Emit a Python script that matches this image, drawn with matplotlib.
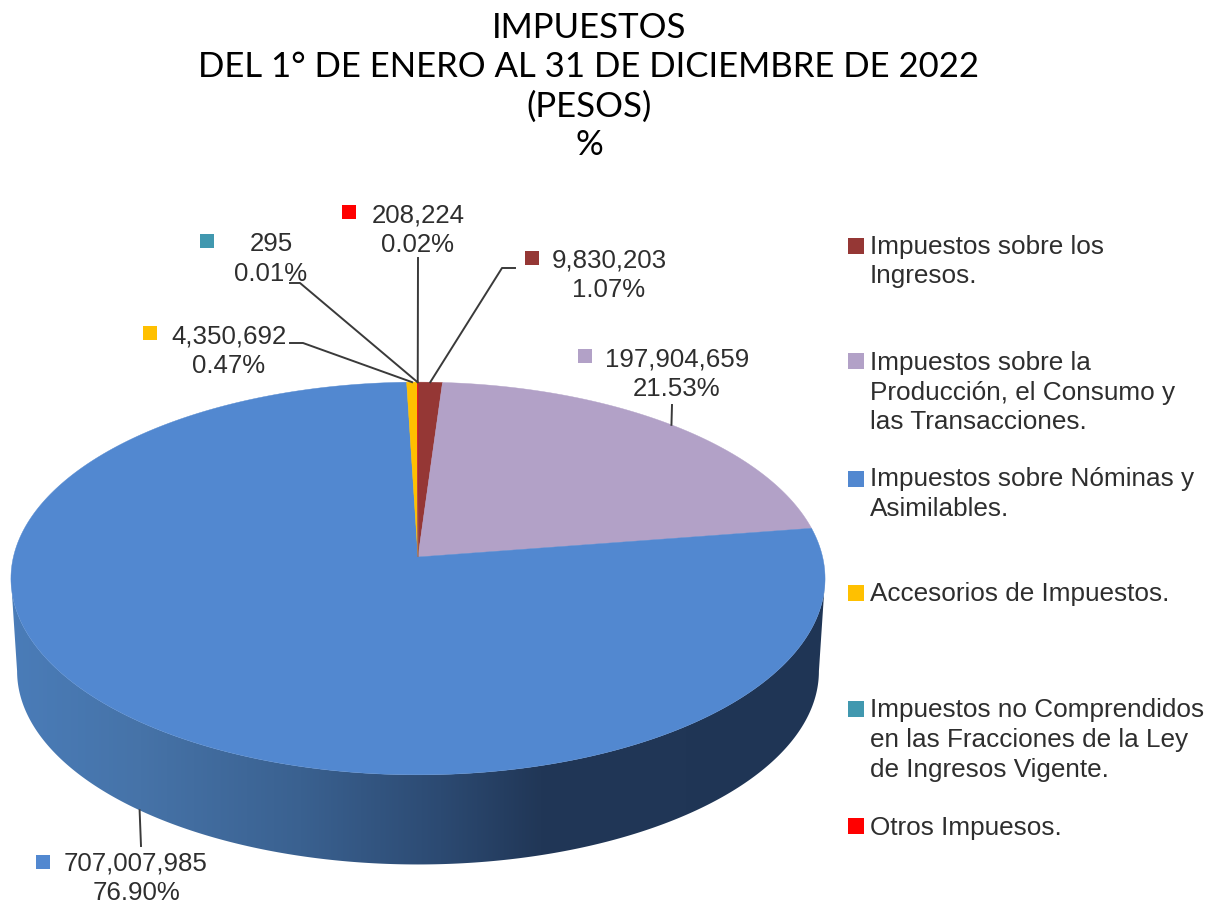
# Impuestos 2022 - fake 3D pie (perspective disc) with labels and legend
import matplotlib
matplotlib.use('Agg')
import matplotlib.pyplot as plt
from matplotlib.colors import to_rgb
from matplotlib.patches import Polygon
import numpy as np

# data
categories = ['Impuestos sobre los\nIngresos.',
              'Impuestos sobre la\nProducción, el Consumo y\nlas Transacciones.',
              'Impuestos sobre Nóminas y\nAsimilables.',
              'Accesorios de Impuestos.',
              'Impuestos no Comprendidos\nen las Fracciones de la Ley\nde Ingresos Vigente.',
              'Otros Impuesos.']
values = [9830203, 197904659, 707007985, 4350692, 295, 208224]
value_labels = ['9,830,203', '197,904,659', '707,007,985', '4,350,692', '295', '208,224']
percents = ['1.07%', '21.53%', '76.90%', '0.47%', '0.01%', '0.02%']
colors = ['#953735', '#B2A1C7', '#5288D0', '#FFC000', '#4198AF', '#FF0000']
title_lines = ['IMPUESTOS', 'DEL 1° DE ENERO AL 31 DE DICIEMBRE DE 2022', '(PESOS)', '%']

# layout, in pixels
W, H = 1215, 905
CX = 418
K = 0.1094      # perspective
TOP = (557, 404.6, 194.0)      # centre y, x scale, y scale
BOT = (650, 398.5, 191.0)
label_xy = [(609, 275), (677, 374), (136, 878.5), (229, 351.5), (271, 259), (418, 230)]
square_xy = [(532, 258), (585, 356), (43, 862), (150, 333), (207, 241), (349, 212)]
leader_from = [[(515, 268), (502, 268)], [(672, 405)], [(141, 846)],
               [(290, 343), (303, 343)], [(290, 283), (300, 283)], [(418, 258)]]
legend_y = [261.5, 392.5, 494, 593.5, 740, 827.5]
legend_sq_y = [246, 361, 479, 593, 709, 826]


def rim(theta, plane=TOP):
    # theta clockwise from top, radians
    y0, a, b = plane
    w = 1 + K * np.cos(theta)
    return CX + a * np.sin(theta) / w, y0 - b * np.cos(theta) / w


fig = plt.figure(figsize=(W / 100, H / 100), dpi=100)
ax = fig.add_axes([0, 0, 1, 1])

fracs = np.array(values) / np.sum(values)
edges = np.concatenate([[0], np.cumsum(fracs)]) * 2 * np.pi
mids = (edges[:-1] + edges[1:]) / 2

# side wall of the big slice, only the part facing the viewer
s0 = np.arccos(-K)
t = np.linspace(max(edges[2], s0), min(edges[3], 2 * np.pi - s0), 500)
tx, ty = rim(t, TOP)
bx, by = rim(t, BOT)
wall = Polygon(np.column_stack([np.r_[tx, bx[::-1]], np.r_[ty, by[::-1]]]), transform=ax.transData,
               facecolor='none', edgecolor='none')
ax.add_patch(wall)
stops_x = [15, 140, 300, 440, 540, 830]
stops_c = np.array([to_rgb(c) for c in ['#4A7CB8', '#4673A8', '#3A6190', '#2C4A72', '#213757', '#1F3555']])
gx = np.arange(0, W)
grad = np.column_stack([np.interp(gx, stops_x, stops_c[:, i]) for i in range(3)])[None, :, :]
im = ax.imshow(grad, extent=(0, W, H, 0), aspect='auto', zorder=1)
im.set_clip_path(wall)

ax.set_xlim(0, W)
ax.set_ylim(H, 0)
ax.axis('off')

# top face
for i in range(len(values)):
    t = np.linspace(edges[i], edges[i + 1], 300)
    x, y = rim(t)
    ax.fill(np.r_[CX, x], np.r_[TOP[0], y], color=colors[i], lw=0.3, zorder=3)

# leader lines
for i in range(len(values)):
    end = rim(mids[i], BOT if i == 2 else TOP)
    pts = leader_from[i] + [end]
    ax.plot([p[0] for p in pts], [p[1] for p in pts], color='#3A3A3A', lw=1.4, zorder=4)

# data labels
for i in range(len(values)):
    ax.text(label_xy[i][0], label_xy[i][1], value_labels[i] + '\n' + percents[i],
            family='Liberation Sans', fontsize=18.6, color='#2E2E2E', ha='center', va='center',
            linespacing=1.3, zorder=5)
    ax.scatter(*square_xy[i], marker='s', s=88, color=colors[i], lw=0, zorder=5)

# legend
for i in range(len(values)):
    ax.text(870, legend_y[i], categories[i], family='Liberation Sans', fontsize=18.8,
            color='#2E2E2E', ha='left', va='center', linespacing=1.29)
    ax.scatter(856, legend_sq_y[i], marker='s', s=117, color=colors[i], lw=0)

# title
for line, y in zip(title_lines, [28, 67, 107, 145]):
    ax.text(589, y, line, family='Lato', fontsize=25, color='black', ha='center', va='center')

fig.savefig('out.png', dpi=100)
